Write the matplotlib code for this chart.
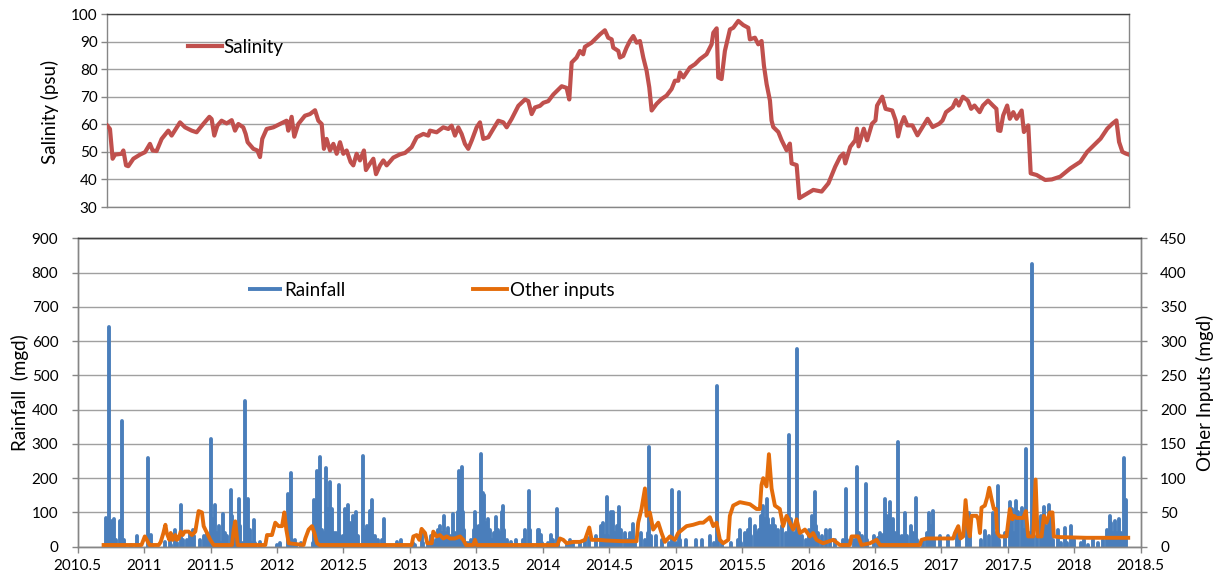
import matplotlib
matplotlib.use("Agg")
import matplotlib.pyplot as plt
from matplotlib.ticker import FuncFormatter, MultipleLocator

# ---------------- data ----------------
sal_t = [2010.723, 2010.743, 2010.763, 2010.781, 2010.831, 2010.844, 2010.864, 2010.881, 2010.919, 2010.969,
         2011.007, 2011.044, 2011.064, 2011.094, 2011.132, 2011.182, 2011.207, 2011.270, 2011.308, 2011.358,
         2011.395, 2011.445, 2011.491, 2011.508, 2011.528, 2011.551, 2011.583, 2011.621, 2011.659, 2011.684,
         2011.709, 2011.746, 2011.764, 2011.779, 2011.822, 2011.852, 2011.872, 2011.889, 2011.922, 2011.972,
         2012.022, 2012.072, 2012.085, 2012.110, 2012.130, 2012.160, 2012.210, 2012.248, 2012.286, 2012.311,
         2012.336, 2012.353, 2012.373, 2012.399, 2012.424, 2012.449, 2012.474, 2012.499, 2012.524, 2012.554,
         2012.574, 2012.599, 2012.624, 2012.654, 2012.669, 2012.699, 2012.725, 2012.745, 2012.775, 2012.800,
         2012.825, 2012.875, 2012.925, 2012.963, 2013.013, 2013.051, 2013.101, 2013.138, 2013.151, 2013.201,
         2013.251, 2013.289, 2013.314, 2013.339, 2013.364, 2013.389, 2013.414, 2013.439, 2013.465, 2013.502,
         2013.527, 2013.552, 2013.590, 2013.627, 2013.665, 2013.703, 2013.728, 2013.765, 2013.816, 2013.866,
         2013.891, 2013.916, 2013.941, 2013.979, 2014.004, 2014.041, 2014.079, 2014.142, 2014.179, 2014.199,
         2014.217, 2014.254, 2014.279, 2014.304, 2014.317, 2014.367, 2014.405, 2014.430, 2014.467, 2014.492,
         2014.518, 2014.530, 2014.568, 2014.580, 2014.605, 2014.630, 2014.655, 2014.681, 2014.706, 2014.731,
         2014.756, 2014.781, 2014.801, 2014.819, 2014.856, 2014.894, 2014.931, 2014.969, 2014.994, 2015.019,
         2015.032, 2015.057, 2015.107, 2015.145, 2015.182, 2015.232, 2015.270, 2015.283, 2015.308, 2015.320,
         2015.345, 2015.370, 2015.408, 2015.433, 2015.471, 2015.508, 2015.546, 2015.558, 2015.596, 2015.621,
         2015.646, 2015.664, 2015.684, 2015.709, 2015.721, 2015.734, 2015.772, 2015.797, 2015.834, 2015.859,
         2015.872, 2015.910, 2015.930, 2015.972, 2016.035, 2016.098, 2016.149, 2016.200, 2016.237, 2016.262,
         2016.276, 2016.313, 2016.351, 2016.364, 2016.376, 2016.415, 2016.440, 2016.477, 2016.503, 2016.515,
         2016.554, 2016.579, 2016.629, 2016.655, 2016.673, 2016.693, 2016.718, 2016.743, 2016.781, 2016.819,
         2016.857, 2016.895, 2016.933, 2016.983, 2017.008, 2017.034, 2017.084, 2017.109, 2017.130, 2017.161,
         2017.198, 2017.223, 2017.248, 2017.287, 2017.312, 2017.350, 2017.387, 2017.413, 2017.426, 2017.443,
         2017.464, 2017.494, 2017.514, 2017.540, 2017.565, 2017.603, 2017.620, 2017.653, 2017.671, 2017.716,
         2017.780, 2017.830, 2017.893, 2017.969, 2018.045, 2018.096, 2018.146, 2018.197, 2018.247, 2018.285,
         2018.316, 2018.336, 2018.361, 2018.386, 2018.410]
sal_v = [59.5, 58.3, 47.5, 49.0, 49.3, 50.5, 45.1, 44.8, 47.5, 49.0,
         49.9, 52.9, 50.5, 50.3, 54.7, 57.7, 55.9, 60.7, 58.9, 57.7,
         57.1, 60.1, 62.7, 61.9, 55.9, 59.5, 61.3, 60.3, 61.5, 57.7,
         60.1, 58.9, 56.5, 53.5, 51.1, 50.5, 48.1, 54.7, 58.3, 58.9,
         60.1, 61.3, 57.7, 62.7, 55.5, 60.1, 63.1, 63.7, 65.1, 61.3,
         60.1, 51.1, 54.7, 50.5, 52.9, 49.3, 53.5, 49.3, 50.5, 46.3,
         45.1, 49.3, 46.9, 50.5, 43.4, 45.7, 47.5, 41.9, 45.1, 46.9,
         45.1, 47.9, 49.1, 49.6, 51.7, 55.3, 56.5, 55.9, 57.7, 57.1,
         58.9, 58.3, 59.5, 55.9, 58.9, 56.5, 52.9, 51.1, 54.1, 58.9,
         60.7, 54.7, 55.3, 58.3, 61.3, 60.7, 58.9, 61.9, 66.7, 69.0,
         68.4, 63.7, 66.1, 66.7, 67.8, 68.4, 70.8, 73.8, 73.2, 69.0,
         82.4, 84.2, 86.6, 85.4, 88.1, 89.6, 91.4, 92.6, 94.1, 91.4,
         90.8, 87.8, 86.6, 84.2, 84.8, 87.8, 90.2, 92.0, 89.6, 90.2,
         84.2, 79.4, 73.4, 65.0, 67.4, 69.2, 70.4, 72.8, 75.8, 75.8,
         78.8, 77.0, 80.6, 81.8, 83.6, 85.4, 89.0, 93.2, 94.8, 77.0,
         76.4, 86.6, 94.4, 95.0, 97.5, 96.0, 95.0, 90.8, 91.4, 89.0,
         90.2, 81.2, 74.6, 68.6, 61.4, 59.0, 57.2, 54.2, 50.6, 53.0,
         45.8, 45.2, 33.2, 34.4, 36.2, 35.6, 38.6, 44.6, 48.2, 49.4,
         45.8, 51.8, 54.2, 58.4, 52.0, 58.4, 54.2, 60.2, 61.4, 66.8,
         70.0, 65.6, 65.0, 61.4, 55.6, 59.6, 62.6, 59.6, 59.6, 56.0,
         59.0, 62.0, 59.0, 60.2, 61.4, 64.4, 66.2, 68.8, 66.8, 70.0,
         68.6, 65.6, 66.8, 64.4, 66.8, 68.6, 66.8, 65.6, 57.8, 57.6,
         63.2, 66.8, 62.0, 64.4, 62.0, 65.0, 57.2, 59.6, 42.2, 41.6,
         39.8, 40.0, 41.0, 44.0, 46.4, 50.0, 52.4, 54.8, 58.4, 60.2,
         61.4, 53.6, 50.0, 49.4, 49.0]

rain_t = [2010.690, 2010.705, 2010.710, 2010.722, 2010.733, 2010.745, 2010.760, 2010.776, 2010.790, 2010.812,
          2010.821, 2010.834, 2010.845, 2010.855, 2010.900, 2010.935, 2010.946, 2010.958, 2011.020, 2011.029,
          2011.040, 2011.050, 2011.062, 2011.150, 2011.160, 2011.195, 2011.205, 2011.230, 2011.245, 2011.265,
          2011.278, 2011.290, 2011.320, 2011.330, 2011.348, 2011.365, 2011.375, 2011.395, 2011.420, 2011.450,
          2011.470, 2011.490, 2011.506, 2011.515, 2011.527, 2011.536, 2011.545, 2011.565, 2011.578, 2011.591,
          2011.605, 2011.620, 2011.640, 2011.654, 2011.662, 2011.675, 2011.690, 2011.711, 2011.725, 2011.745,
          2011.762, 2011.772, 2011.785, 2011.800, 2011.812, 2011.824, 2011.838, 2011.860, 2011.872, 2011.885,
          2011.990, 2012.000, 2012.020, 2012.030, 2012.075, 2012.084, 2012.094, 2012.103, 2012.115, 2012.132,
          2012.145, 2012.180, 2012.250, 2012.270, 2012.281, 2012.292, 2012.300, 2012.310, 2012.321, 2012.335,
          2012.350, 2012.371, 2012.381, 2012.396, 2012.405, 2012.415, 2012.428, 2012.445, 2012.465, 2012.475,
          2012.500, 2012.515, 2012.525, 2012.537, 2012.548, 2012.560, 2012.575, 2012.595, 2012.608, 2012.625,
          2012.645, 2012.655, 2012.680, 2012.690, 2012.700, 2012.712, 2012.722, 2012.740, 2012.760, 2012.790,
          2012.805, 2012.815, 2012.860, 2012.900, 2012.915, 2012.930, 2012.945, 2013.000, 2013.020, 2013.035,
          2013.088, 2013.100, 2013.140, 2013.160, 2013.175, 2013.200, 2013.213, 2013.226, 2013.240, 2013.257,
          2013.270, 2013.290, 2013.305, 2013.327, 2013.340, 2013.360, 2013.372, 2013.380, 2013.389, 2013.400,
          2013.410, 2013.420, 2013.440, 2013.460, 2013.480, 2013.490, 2013.500, 2013.510, 2013.520, 2013.532,
          2013.542, 2013.550, 2013.560, 2013.570, 2013.585, 2013.600, 2013.615, 2013.630, 2013.648, 2013.660,
          2013.675, 2013.690, 2013.703, 2013.712, 2013.730, 2013.760, 2013.800, 2013.850, 2013.870, 2013.896,
          2013.905, 2013.920, 2013.950, 2013.963, 2013.974, 2013.985, 2013.998, 2014.040, 2014.065, 2014.080,
          2014.104, 2014.115, 2014.180, 2014.205, 2014.230, 2014.280, 2014.320, 2014.350, 2014.400, 2014.440,
          2014.455, 2014.470, 2014.480, 2014.490, 2014.510, 2014.525, 2014.540, 2014.555, 2014.573, 2014.590,
          2014.620, 2014.640, 2014.660, 2014.680, 2014.695, 2014.740, 2014.770, 2014.790, 2014.801, 2014.812,
          2014.850, 2014.900, 2014.950, 2014.969, 2014.980, 2015.000, 2015.022, 2015.035, 2015.080, 2015.150,
          2015.200, 2015.260, 2015.290, 2015.308, 2015.320, 2015.350, 2015.420, 2015.470, 2015.483, 2015.495,
          2015.520, 2015.546, 2015.558, 2015.570, 2015.596, 2015.610, 2015.630, 2015.645, 2015.660, 2015.672,
          2015.684, 2015.695, 2015.712, 2015.730, 2015.745, 2015.770, 2015.800, 2015.830, 2015.845, 2015.855,
          2015.865, 2015.880, 2015.900, 2015.915, 2015.925, 2015.950, 2015.980, 2016.000, 2016.023, 2016.035,
          2016.048, 2016.058, 2016.070, 2016.100, 2016.130, 2016.165, 2016.200, 2016.260, 2016.280, 2016.290,
          2016.340, 2016.366, 2016.378, 2016.400, 2016.429, 2016.440, 2016.490, 2016.520, 2016.540, 2016.560,
          2016.575, 2016.590, 2016.600, 2016.617, 2016.635, 2016.650, 2016.670, 2016.680, 2016.700, 2016.725,
          2016.740, 2016.775, 2016.790, 2016.808, 2016.820, 2016.860, 2016.890, 2016.908, 2016.920, 2016.934,
          2016.945, 2016.990, 2017.050, 2017.120, 2017.135, 2017.190, 2017.205, 2017.215, 2017.300, 2017.330,
          2017.360, 2017.390, 2017.410, 2017.423, 2017.435, 2017.480, 2017.515, 2017.530, 2017.545, 2017.565,
          2017.580, 2017.603, 2017.620, 2017.636, 2017.648, 2017.670, 2017.681, 2017.692, 2017.720, 2017.750,
          2017.773, 2017.790, 2017.811, 2017.822, 2017.840, 2017.880, 2017.900, 2017.929, 2017.945, 2017.979,
          2017.995, 2018.050, 2018.075, 2018.100, 2018.140, 2018.180, 2018.220, 2018.243, 2018.268, 2018.280,
          2018.295, 2018.305, 2018.320, 2018.340, 2018.355, 2018.373, 2018.383, 2018.393, 2018.400]
rain_v = [0, 0, 85, 20, 640, 30, 75, 80, 20, 0,
          75, 368, 20, 0, 5, 0, 30, 5, 0, 258,
          30, 35, 5, 0, 15, 30, 5, 50, 10, 0,
          122, 20, 20, 0, 40, 50, 30, 0, 20, 30,
          40, 10, 315, 80, 0, 122, 40, 60, 10, 95,
          40, 30, 0, 165, 90, 50, 20, 140, 60, 10,
          425, 100, 140, 50, 10, 78, 10, 0, 15, 0,
          0, 5, 10, 0, 0, 155, 40, 215, 20, 20,
          5, 10, 0, 10, 135, 60, 220, 100, 262, 50,
          40, 230, 110, 190, 70, 110, 40, 40, 180, 30,
          30, 110, 50, 122, 70, 30, 90, 100, 30, 0,
          265, 50, 60, 0, 105, 135, 30, 30, 20, 20,
          82, 5, 0, 15, 5, 20, 0, 0, 10, 5,
          45, 10, 10, 30, 10, 20, 50, 60, 40, 90,
          40, 55, 30, 95, 40, 100, 220, 120, 232, 100,
          50, 10, 10, 20, 50, 100, 60, 20, 60, 270,
          100, 158, 150, 70, 80, 50, 20, 40, 86, 50,
          40, 100, 120, 50, 20, 15, 20, 20, 50, 163,
          50, 5, 0, 50, 50, 35, 10, 10, 35, 20,
          110, 10, 5, 20, 15, 15, 20, 25, 30, 60,
          70, 30, 145, 30, 100, 100, 40, 60, 115, 50,
          40, 20, 40, 65, 20, 40, 20, 40, 290, 30,
          30, 20, 10, 165, 20, 10, 160, 20, 20, 20,
          20, 30, 10, 470, 20, 10, 10, 20, 50, 10,
          40, 50, 80, 30, 60, 40, 50, 90, 120, 80,
          140, 80, 60, 80, 60, 50, 60, 40, 30, 325,
          80, 40, 40, 578, 40, 30, 20, 50, 90, 40,
          160, 60, 40, 30, 50, 50, 20, 20, 167, 20,
          20, 233, 40, 30, 182, 20, 30, 25, 40, 35,
          138, 90, 60, 131, 80, 40, 306, 30, 30, 97,
          30, 60, 40, 141, 20, 20, 40, 97, 60, 104,
          20, 30, 30, 45, 20, 60, 97, 30, 20, 45,
          30, 97, 40, 178, 20, 40, 131, 110, 40, 134,
          100, 114, 50, 285, 50, 40, 824, 30, 30, 90,
          117, 60, 122, 80, 20, 50, 10, 54, 10, 60,
          20, 10, 20, 5, 20, 10, 20, 50, 90, 70,
          40, 75, 40, 80, 40, 258, 100, 135, 0]

other_t = [2010.695, 2010.980, 2010.995, 2011.005, 2011.020, 2011.040, 2011.110, 2011.125, 2011.145, 2011.160,
           2011.170, 2011.190, 2011.200, 2011.215, 2011.235, 2011.245, 2011.260, 2011.275, 2011.290, 2011.305,
           2011.335, 2011.360, 2011.385, 2011.410, 2011.435, 2011.448, 2011.473, 2011.498, 2011.523, 2011.661,
           2011.674, 2011.686, 2011.704, 2011.912, 2011.925, 2011.962, 2011.987, 2012.012, 2012.038, 2012.055,
           2012.070, 2012.088, 2012.200, 2012.213, 2012.238, 2012.263, 2012.281, 2012.301, 2012.321, 2013.013,
           2013.026, 2013.051, 2013.071, 2013.088, 2013.114, 2013.131, 2013.164, 2013.176, 2013.201, 2013.226,
           2013.252, 2013.277, 2013.302, 2013.339, 2013.377, 2013.402, 2013.422, 2013.477, 2013.490, 2013.502,
           2014.110, 2014.129, 2014.154, 2014.180, 2014.230, 2014.280, 2014.318, 2014.350, 2014.368, 2014.418,
           2014.480, 2014.600, 2014.706, 2014.718, 2014.743, 2014.769, 2014.781, 2014.806, 2014.831, 2014.869,
           2014.894, 2014.919, 2014.957, 2014.994, 2015.019, 2015.082, 2015.132, 2015.182, 2015.208, 2015.258,
           2015.283, 2015.308, 2015.333, 2015.358, 2015.396, 2015.408, 2015.433, 2015.483, 2015.559, 2015.609,
           2015.634, 2015.646, 2015.659, 2015.684, 2015.702, 2015.722, 2015.747, 2015.784, 2015.809, 2015.835,
           2015.860, 2015.885, 2015.910, 2015.935, 2015.973, 2016.010, 2016.035, 2016.060, 2016.110, 2016.186,
           2016.236, 2016.311, 2016.324, 2016.374, 2016.399, 2016.462, 2016.512, 2016.537, 2016.838, 2016.851,
           2016.888, 2016.964, 2017.089, 2017.102, 2017.127, 2017.144, 2017.164, 2017.182, 2017.202, 2017.214,
           2017.227, 2017.265, 2017.277, 2017.290, 2017.302, 2017.327, 2017.345, 2017.360, 2017.377, 2017.395,
           2017.410, 2017.420, 2017.440, 2017.490, 2017.515, 2017.535, 2017.548, 2017.566, 2017.616, 2017.636,
           2017.653, 2017.691, 2017.709, 2017.724, 2017.754, 2017.771, 2017.791, 2017.816, 2017.836, 2017.846,
           2017.892, 2018.092, 2018.406]
other_v = [2.5, 2.5, 10, 15, 10, 2.5, 2.5, 7, 20, 32,
           20, 10, 20, 10, 17, 10, 12, 22, 17, 22,
           22, 17, 22, 52, 50, 30, 20, 10, 2.5, 2.5,
           25, 37, 2.5, 2.5, 17, 17, 35, 30, 30, 50,
           25, 5, 2.5, 12, 25, 30, 20, 5, 2.5, 2.5,
           15, 17, 10, 26, 20, 5, 5, 22, 15, 17,
           12, 15, 12, 12, 15, 10, 2.5, 2.5, 10, 2.5,
           2.5, 12, 10, 5, 7, 7, 10, 28, 10, 10,
           9, 8, 8, 35, 55, 85, 45, 50, 25, 35,
           20, 7, 15, 10, 20, 30, 32, 35, 35, 43,
           30, 35, 10, 5, 10, 45, 60, 65, 62, 55,
           55, 90, 100, 88, 135, 85, 60, 55, 30, 45,
           35, 25, 40, 20, 25, 15, 20, 10, 5, 10,
           2.5, 2.5, 15, 15, 2.5, 5, 10, 2.5, 2.5, 10,
           12, 12, 12, 20, 30, 12, 15, 68, 25, 15,
           45, 45, 40, 20, 57, 60, 72, 86, 70, 55,
           55, 20, 15, 15, 55, 40, 45, 42, 42, 52,
           15, 15, 98, 15, 15, 45, 35, 50, 50, 15,
           14, 13, 13]

x_ticks = [2010.5, 2011, 2011.5, 2012, 2012.5, 2013, 2013.5, 2014, 2014.5,
           2015, 2015.5, 2016, 2016.5, 2017, 2017.5, 2018, 2018.5]

# ---------------- style ----------------
plt.rcParams['font.family'] = ['Lato', 'DejaVu Sans']
RED = '#C0504D'
BLUE = '#4A7EBB'
ORANGE = '#E46C0A'
GRID = '#A0A0A0'
SPINE = '#868686'
TXT = '#000000'

W, H = 1221, 583
fig = plt.figure(figsize=(W / 100, H / 100), dpi=100)


def rect(l, t, r, b):
    return [l / W, 1 - b / H, (r - l) / W, (b - t) / H]


# ---------------- top panel ----------------
ax1 = fig.add_axes(rect(107.3, 14, 1129.3, 207))
ax1.plot(sal_t, sal_v, color=RED, lw=3.0, solid_joinstyle='round', label='Salinity', zorder=3)
ax1.set_xlim(2010.723, 2018.413)
ax1.set_ylim(30, 100)
ax1.yaxis.set_major_locator(MultipleLocator(10))
ax1.grid(axis='y', color=GRID, lw=1.0)
ax1.set_axisbelow(True)
ax1.set_xticks([])
ax1.tick_params(axis='y', length=4, width=1, color=SPINE, labelsize=11, pad=3, labelcolor=TXT)
for s in ['left', 'bottom', 'right']:
    ax1.spines[s].set_color(SPINE)
    ax1.spines[s].set_linewidth(1.0)
ax1.spines['top'].set_color('#404040')
ax1.spines['top'].set_linewidth(1.0)
ax1.legend(loc='center left', bbox_to_anchor=(0.079, 0.829), frameon=False,
           handlelength=1.8, handletextpad=0.1, borderpad=0, borderaxespad=0,
           fontsize=13.5)
fig.text(50 / W, 1 - 112 / H, 'Salinity (psu)', rotation=90, ha='center', va='center', fontsize=13.5)

# ---------------- bottom panel ----------------
ax2 = fig.add_axes(rect(77.7, 238.3, 1140.7, 546.7))
ax3 = ax2.twinx()
ax2.vlines(rain_t, 0, rain_v, color=BLUE, lw=2.8, capstyle='round', label='Rainfall', zorder=2)
ax3.plot(other_t, other_v, color=ORANGE, lw=2.8, solid_joinstyle='round', label='Other inputs', zorder=3)
ax2.set_xlim(2010.5, 2018.5)
ax2.set_ylim(0, 900)
ax3.set_ylim(0, 450)
ax2.yaxis.set_major_locator(MultipleLocator(100))
ax3.yaxis.set_major_locator(MultipleLocator(50))
ax2.set_xticks(x_ticks)
ax2.xaxis.set_major_formatter(FuncFormatter(lambda v, p: '%g' % v))
ax2.grid(axis='y', color=GRID, lw=1.0)
ax2.set_axisbelow(True)
ax2.tick_params(axis='y', length=4, width=1, color=SPINE, labelsize=11, pad=10)
ax2.tick_params(axis='x', length=4, width=1, color=SPINE, labelsize=11, pad=5)
ax3.tick_params(axis='y', length=4, width=1, color=SPINE, labelsize=11, pad=10)
for a in (ax2, ax3):
    for s in ['left', 'bottom', 'right']:
        a.spines[s].set_color(SPINE)
        a.spines[s].set_linewidth(1.0)
    a.spines['top'].set_color('#404040')
    a.spines['top'].set_linewidth(1.0)
ax2.legend(loc='center left', bbox_to_anchor=(0.160, 0.832), frameon=False,
           handlelength=1.8, handletextpad=0.15, borderpad=0, borderaxespad=0, fontsize=13.5)
ax3.legend(loc='center left', bbox_to_anchor=(0.372, 0.832), frameon=False,
           handlelength=1.8, handletextpad=0.15, borderpad=0, borderaxespad=0, fontsize=13.5)
fig.text(20 / W, 1 - 393 / H, 'Rainfall  (mgd)', rotation=90, ha='center', va='center', fontsize=13.5)
fig.text(1205 / W, 1 - 393 / H, 'Other Inputs (mgd)', rotation=90, ha='center', va='center', fontsize=13.5)

fig.savefig('out.png', dpi=100)
